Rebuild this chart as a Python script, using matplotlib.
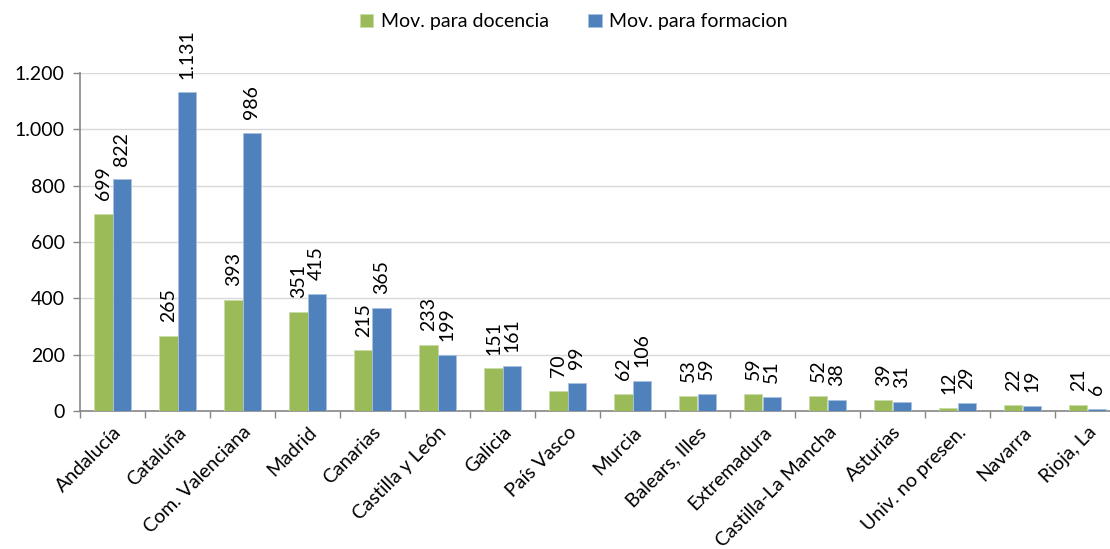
import numpy as np
import matplotlib
matplotlib.use("Agg")
import matplotlib.pyplot as plt
from matplotlib.ticker import FuncFormatter, FixedLocator

plt.rcParams['font.family'] = ['Lato', 'DejaVu Sans']

# datos
regiones = ["Andalucía", "Cataluña", "Com. Valenciana", "Madrid", "Canarias",
            "Castilla y León", "Galicia", "País Vasco", "Murcia", "Balears, Illes",
            "Extremadura", "Castilla-La Mancha", "Asturias", "Univ. no presen.",
            "Navarra", "Rioja, La"]
docencia = [699, 265, 393, 351, 215, 233, 151, 70, 62, 53, 59, 52, 39, 12, 22, 21]
formacion = [822, 1131, 986, 415, 365, 199, 161, 99, 106, 59, 51, 38, 31, 29, 19, 6]
yticks = [0, 200, 400, 600, 800, 1000, 1200]

verde = "#9BBB59"
azul = "#4F81BD"

def miles(v):
    return f"{int(v):,}".replace(",", ".")

fig = plt.figure(figsize=(11.10, 5.49), dpi=100)
ax = fig.add_axes([80/1110, 1 - 411/549, 1040/1110, (411-73)/549])

x = np.arange(len(regiones))
w = 0.277
b1 = ax.bar(x - w/2, docencia, w, color=verde, edgecolor="#c9dba8", linewidth=0.6,
            label="Mov. para docencia", zorder=3)
b2 = ax.bar(x + w/2, formacion, w, color=azul, edgecolor="#a9c0dd", linewidth=0.6,
            label="Mov. para formacion", zorder=3)

for bars, vals in ((b1, docencia), (b2, formacion)):
    for r, v in zip(bars, vals):
        ax.annotate(miles(v), (r.get_x() + r.get_width()/2, r.get_height()),
                    xytext=(0, 10), textcoords="offset points", rotation=90,
                    ha="center", va="bottom", fontsize=14, color="black",
                    annotation_clip=False)

ax.set_xlim(-0.5, len(regiones) - 0.5)
ax.set_ylim(0, 1200)
ax.set_yticks(yticks)
ax.yaxis.set_major_formatter(FuncFormatter(lambda v, p: miles(v)))
ax.grid(axis="y", color="#d9d9d9", linewidth=1, zorder=0)

ax.xaxis.set_major_locator(FixedLocator(np.arange(-0.5, len(regiones), 1.0)))
ax.xaxis.set_minor_locator(FixedLocator(x))
ax.set_xticklabels([])
ax.set_xticklabels(regiones, minor=True, rotation=45, ha="right",
                   rotation_mode="anchor", fontsize=14)
ax.tick_params(axis="x", which="minor", length=0, pad=9)
ax.tick_params(axis="x", which="major", length=5, color="#868686", width=1)
ax.tick_params(axis="y", length=5, color="#868686", width=1, labelsize=14, pad=6)

for s in ("top", "right"):
    ax.spines[s].set_visible(False)
for s in ("left", "bottom"):
    ax.spines[s].set_color("#868686")
    ax.spines[s].set_linewidth(1.2)

fig.legend(handles=[b1, b2], loc="center", bbox_to_anchor=(0.517, 0.96), ncol=2,
           frameon=False, fontsize=14, handlelength=0.7, handleheight=0.7,
           handletextpad=0.4, columnspacing=2.0)

fig.savefig("out.png", dpi=100)
